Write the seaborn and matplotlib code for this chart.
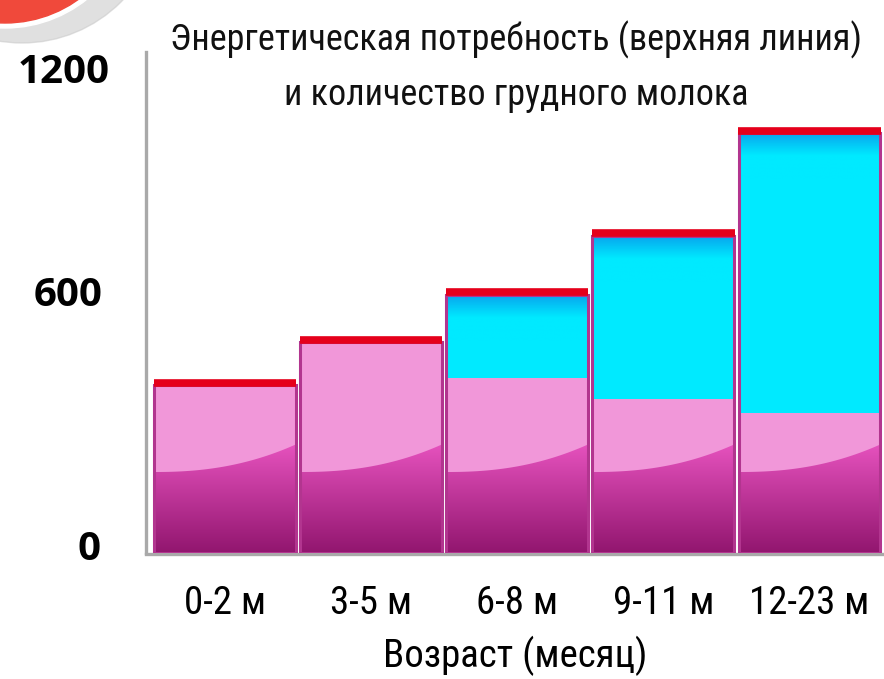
import numpy as np
import matplotlib
matplotlib.use("Agg")
import matplotlib.pyplot as plt
import seaborn as sns
from matplotlib import font_manager
from matplotlib.colors import to_rgb
from matplotlib.patches import Circle, Polygon
from matplotlib.transforms import IdentityTransform, ScaledTranslation

# data (kcal per day)
ages = ["0-2 м", "3-5 м", "6-8 м", "9-11 м", "12-23 м"]
energy = [402, 505, 618, 760, 1005]   # energy requirement (red top line)
milk = [402, 505, 420, 368, 335]      # breast milk
y_ticks = [0, 600, 1200]
y_tick_labels = ["0", "600", "1200"]

title_1 = "Энергетическая потребность (верхняя линия)"
title_2 = "и количество грудного молока"
x_title = "Возраст (месяц)"

sns.set_theme(style="white")

installed = {f.name for f in font_manager.fontManager.ttflist}
narrow = "DejaVu Sans"
for name in ["Liberation Sans Narrow", "Roboto Condensed", "Roboto", "Open Sans"]:
    if name in installed:
        narrow = name
        break
bold_font = "Open Sans" if "Open Sans" in installed else narrow
plt.rcParams["font.family"] = [narrow, "DejaVu Sans"]

pink = "#f197d9"
cyan = "#00eaff"
red = "#e5001b"
edge = "#b2358f"
gray = "#a9a9a9"

fig = plt.figure(figsize=(8.84, 6.79), dpi=100)
ax = fig.add_axes([146 / 884, 1 - 553 / 679, 1 - 146 / 884, (553 - 52) / 679])

# total bars (cyan) and breast milk part (pink)
sns.barplot(x=ages, y=energy, color=cyan, width=0.97, linewidth=0, saturation=1, ax=ax, zorder=2)
sns.barplot(x=ages, y=milk, color=pink, width=0.97, linewidth=0, saturation=1, ax=ax, zorder=3)

n = len(ages)
cyan_bars = ax.patches[:n]
milk_bars = ax.patches[n:2 * n]


def grad_img(top, bottom, steps=64):
    t = np.linspace(0, 1, steps)[:, None]
    c0, c1 = np.array(to_rgb(top)), np.array(to_rgb(bottom))
    return (c0 * (1 - t) + c1 * t)[:, None, :].repeat(2, axis=1)


# darker blue at the top of the cyan part
for bar in cyan_bars:
    x0, w, h = bar.get_x(), bar.get_width(), bar.get_height()
    im = ax.imshow(np.concatenate([grad_img("#08a6ee", cyan, 40), grad_img(cyan, cyan, 40)]),
                   extent=[x0, x0 + w, h - 110, h], aspect="auto", zorder=2.5, interpolation="bilinear")
    im.set_clip_path(bar)

# glossy dark magenta base of the pink part
for bar in milk_bars:
    x0, w = bar.get_x(), bar.get_width()
    t = np.linspace(0, 1, 60)
    xs = x0 + t * w
    ys = 194 + 66 * t ** 2.3
    pts = np.column_stack([np.r_[xs, x0 + w, x0], np.r_[ys, 0, 0]])
    shape = Polygon(pts, closed=True, facecolor="none", edgecolor="none", transform=ax.transData)
    ax.add_patch(shape)
    im = ax.imshow(grad_img("#e652be", "#92166f"), extent=[x0, x0 + w, 0, 262],
                   aspect="auto", zorder=3.5, interpolation="bilinear")
    im.set_clip_path(shape)

# bar outlines
sns.barplot(x=ages, y=energy, fill=False, color=edge, width=0.97, linewidth=2.2, saturation=1, ax=ax, zorder=4)

# energy requirement line on top of each bar
xs = np.arange(n)
ax.hlines(np.array(energy) + 6, xs - 0.487, xs + 0.487, color=red, linewidth=5.5, zorder=5)

ax.set_xlim(-0.54, 4.51)
ax.set_ylim(0, 1200)
ax.set_yticks(y_ticks)
ax.set_yticklabels(y_tick_labels, fontsize=29, fontweight="bold", family=[bold_font, "DejaVu Sans"])
ax.tick_params(axis="y", length=0, pad=26, colors="black")
ax.tick_params(axis="x", length=0, pad=22, labelsize=28, colors="black")
ax.set_ylabel("")
ax.set_xlabel(x_title, fontsize=28, labelpad=10, color="black")

# the value labels in the picture are not evenly placed: nudge them (pixels)
for lab, dx, dy in zip(ax.get_yticklabels(), [-9, -7, 0], [8, 12, -16]):
    lab.set_transform(lab.get_transform() + ScaledTranslation(dx / 100, dy / 100, fig.dpi_scale_trans))

for side in ["top", "right"]:
    ax.spines[side].set_visible(False)
ax.spines["left"].set_color(gray)
ax.spines["left"].set_linewidth(2.4)
ax.spines["bottom"].set_color(gray)
ax.spines["bottom"].set_linewidth(2.4)
ax.spines["bottom"].set_position(("outward", 1))

ax.text(0.502, 1.024, title_1, transform=ax.transAxes, ha="center", va="center", fontsize=26, color="#111111")
ax.text(0.502, 0.914, title_2, transform=ax.transAxes, ha="center", va="center", fontsize=26, color="#111111")

# red badge cut off in the top-left corner
fig.add_artist(Circle((22, 776), 140, transform=IdentityTransform(), color="#c8c8c8", alpha=0.55, zorder=0))
fig.add_artist(Circle((5, 782), 131, transform=IdentityTransform(), color="white", zorder=1))
fig.add_artist(Circle((5, 782), 126, transform=IdentityTransform(), color="#f0493b", zorder=2))

fig.savefig("out.png", dpi=100)
